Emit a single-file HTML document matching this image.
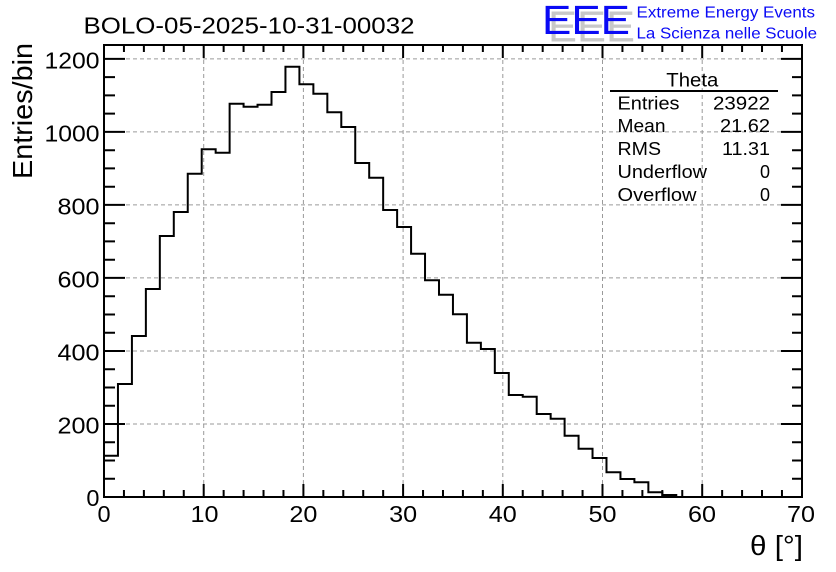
<!DOCTYPE html>
<html>
<head>
<meta charset="utf-8">
<style>
html,body{margin:0;padding:0;background:#fff;}
svg{display:block;}
text{font-family:"Liberation Sans",Arial,sans-serif;fill:#000;}
</style>
</head>
<body>
<svg width="836" height="572" viewBox="0 0 836 572" xmlns="http://www.w3.org/2000/svg">
<rect x="0" y="0" width="836" height="572" fill="#fff"/>

<!-- grid -->
<g stroke="#9a9a9a" stroke-width="1" stroke-dasharray="4 3" fill="none">
  <line x1="203.7" y1="46" x2="203.7" y2="496"/>
  <line x1="303.4" y1="46" x2="303.4" y2="496"/>
  <line x1="403.1" y1="46" x2="403.1" y2="496"/>
  <line x1="502.8" y1="46" x2="502.8" y2="496"/>
  <line x1="602.5" y1="46" x2="602.5" y2="496"/>
  <line x1="702.2" y1="46" x2="702.2" y2="496"/>
  <line x1="105" y1="424.0" x2="801" y2="424.0"/>
  <line x1="105" y1="351.0" x2="801" y2="351.0"/>
  <line x1="105" y1="277.9" x2="801" y2="277.9"/>
  <line x1="105" y1="204.9" x2="801" y2="204.9"/>
  <line x1="105" y1="131.9" x2="801" y2="131.9"/>
  <line x1="105" y1="58.9" x2="801" y2="58.9"/>
</g>

<!-- histogram -->
<path fill="none" stroke="#000" stroke-width="2" stroke-linejoin="miter"
d="M104 497 V455.7 H117.96 V384 H131.92 V336 H145.87 V289 H159.83 V236 H173.79 V212 H187.75 V173.7 H201.71 V149.3 H215.66 V152.7 H229.62 V103.7 H243.58 V106.7 H257.54 V104.7 H271.5 V92 H285.45 V66.7 H299.41 V84.3 H313.37 V93.7 H327.33 V112.3 H341.29 V127 H355.24 V163 H369.2 V177.7 H383.16 V210 H397.12 V227 H411.08 V253.7 H425.03 V280.3 H438.99 V294.8 H452.95 V314.3 H466.91 V342.7 H480.87 V349 H494.82 V373 H508.78 V395 H522.74 V396.7 H536.7 V414 H550.66 V418.7 H564.61 V435.7 H578.57 V448.7 H592.53 V458 H606.49 V472.3 H620.45 V479 H634.4 V482.3 H648.36 V492.3 H662.32 V495 H676.28 V497 H802"/>

<!-- frame -->
<rect x="104" y="45" width="698" height="452" fill="none" stroke="#000" stroke-width="2"/>

<!-- ticks -->
<g stroke="#000" stroke-width="2">
  <!-- x major bottom/top -->
  <path d="M203.7 497V484 M303.4 497V484 M403.1 497V484 M502.8 497V484 M602.5 497V484 M702.2 497V484
           M203.7 45V58 M303.4 45V58 M403.1 45V58 M502.8 45V58 M602.5 45V58 M702.2 45V58"/>
  <!-- x minor bottom -->
  <path d="M123.94 497V490 M143.88 497V490 M163.82 497V490 M183.76 497V490
           M223.64 497V490 M243.58 497V490 M263.52 497V490 M283.46 497V490
           M323.34 497V490 M343.28 497V490 M363.22 497V490 M383.16 497V490
           M423.04 497V490 M442.98 497V490 M462.92 497V490 M482.86 497V490
           M522.74 497V490 M542.68 497V490 M562.62 497V490 M582.56 497V490
           M622.44 497V490 M642.38 497V490 M662.32 497V490 M682.26 497V490
           M722.14 497V490 M742.08 497V490 M762.02 497V490 M781.96 497V490"/>
  <!-- x minor top -->
  <path d="M123.94 45V52 M143.88 45V52 M163.82 45V52 M183.76 45V52
           M223.64 45V52 M243.58 45V52 M263.52 45V52 M283.46 45V52
           M323.34 45V52 M343.28 45V52 M363.22 45V52 M383.16 45V52
           M423.04 45V52 M442.98 45V52 M462.92 45V52 M482.86 45V52
           M522.74 45V52 M542.68 45V52 M562.62 45V52 M582.56 45V52
           M622.44 45V52 M642.38 45V52 M662.32 45V52 M682.26 45V52
           M722.14 45V52 M742.08 45V52 M762.02 45V52 M781.96 45V52"/>
  <!-- y major left/right -->
  <path d="M104 424.0H125 M104 351.0H125 M104 277.9H125 M104 204.9H125 M104 131.9H125 M104 58.9H125
           M802 424.0H781 M802 351.0H781 M802 277.9H781 M802 204.9H781 M802 131.9H781 M802 58.9H781"/>
  <!-- y minor left -->
  <path d="M104 478.7H115 M104 460.5H115 M104 442.2H115
           M104 405.7H115 M104 387.5H115 M104 369.2H115
           M104 332.7H115 M104 314.5H115 M104 296.2H115
           M104 259.7H115 M104 241.4H115 M104 223.2H115
           M104 186.7H115 M104 168.4H115 M104 150.2H115
           M104 113.6H115 M104 95.4H115 M104 77.1H115"/>
  <!-- y minor right -->
  <path d="M802 478.7H792 M802 460.5H792 M802 442.2H792
           M802 405.7H792 M802 387.5H792 M802 369.2H792
           M802 332.7H792 M802 314.5H792 M802 296.2H792
           M802 259.7H792 M802 241.4H792 M802 223.2H792
           M802 186.7H792 M802 168.4H792 M802 150.2H792
           M802 113.6H792 M802 95.4H792 M802 77.1H792"/>
</g>

<!-- title -->
<text x="83.5" y="33.5" font-size="23.5" textLength="331" lengthAdjust="spacingAndGlyphs">BOLO-05-2025-10-31-00032</text>

<!-- y tick labels -->
<g font-size="23.5" text-anchor="end">
  <text x="99.5" y="506">0</text>
  <text x="99.5" y="433.5" textLength="42" lengthAdjust="spacingAndGlyphs">200</text>
  <text x="99.5" y="360.5" textLength="42" lengthAdjust="spacingAndGlyphs">400</text>
  <text x="99.5" y="287.4" textLength="42" lengthAdjust="spacingAndGlyphs">600</text>
  <text x="99.5" y="214.4" textLength="42" lengthAdjust="spacingAndGlyphs">800</text>
  <text x="99.5" y="141.6" textLength="55" lengthAdjust="spacingAndGlyphs">1000</text>
  <text x="99.5" y="68.6" textLength="55" lengthAdjust="spacingAndGlyphs">1200</text>
</g>

<!-- x tick labels -->
<g font-size="23.5" text-anchor="middle">
  <text x="104" y="522">0</text>
  <text x="204.5" y="522" textLength="28" lengthAdjust="spacingAndGlyphs">10</text>
  <text x="303.4" y="522" textLength="28" lengthAdjust="spacingAndGlyphs">20</text>
  <text x="403.1" y="522" textLength="28" lengthAdjust="spacingAndGlyphs">30</text>
  <text x="502.8" y="522" textLength="28" lengthAdjust="spacingAndGlyphs">40</text>
  <text x="602.5" y="522" textLength="28" lengthAdjust="spacingAndGlyphs">50</text>
  <text x="702" y="522" textLength="28" lengthAdjust="spacingAndGlyphs">60</text>
  <text x="801" y="522" textLength="28" lengthAdjust="spacingAndGlyphs">70</text>
</g>

<!-- axis titles -->
<text x="803" y="555" font-size="28" text-anchor="end" textLength="53" lengthAdjust="spacingAndGlyphs">θ [°]</text>
<text transform="translate(32,179) rotate(-90)" font-size="28" textLength="136" lengthAdjust="spacingAndGlyphs">Entries/bin</text>

<!-- stats box -->
<text x="692.3" y="86.7" font-size="19" text-anchor="middle" textLength="52" lengthAdjust="spacingAndGlyphs">Theta</text>
<line x1="610" y1="91" x2="778" y2="91" stroke="#000" stroke-width="2"/>
<g font-size="18">
  <text x="617.5" y="109.5" textLength="62" lengthAdjust="spacingAndGlyphs">Entries</text>
  <text x="617.5" y="132" textLength="48" lengthAdjust="spacingAndGlyphs">Mean</text>
  <text x="617.5" y="155" textLength="43.5" lengthAdjust="spacingAndGlyphs">RMS</text>
  <text x="617.5" y="178" textLength="89.5" lengthAdjust="spacingAndGlyphs">Underflow</text>
  <text x="617.5" y="201" textLength="79" lengthAdjust="spacingAndGlyphs">Overflow</text>
</g>
<g font-size="18" text-anchor="end">
  <text x="770" y="109.5" textLength="57" lengthAdjust="spacingAndGlyphs">23922</text>
  <text x="770" y="132" textLength="50" lengthAdjust="spacingAndGlyphs">21.62</text>
  <text x="770" y="155" textLength="48" lengthAdjust="spacingAndGlyphs">11.31</text>
  <text x="770" y="178">0</text>
  <text x="770" y="201">0</text>
</g>

<!-- EEE logo -->
<text x="548" y="41.7" font-size="44" style="fill:#c8c8c8" textLength="87" lengthAdjust="spacingAndGlyphs">EEE</text>
<text x="542" y="34" font-size="40.5" style="fill:#0a0af5" textLength="88" lengthAdjust="spacingAndGlyphs">EEE</text>
<text x="636.5" y="17.3" font-size="15.5" style="fill:#0a0af5" textLength="178.5" lengthAdjust="spacingAndGlyphs">Extreme Energy Events</text>
<text x="636.5" y="38.3" font-size="16" style="fill:#0a0af5" textLength="180.5" lengthAdjust="spacingAndGlyphs">La Scienza nelle Scuole</text>
</svg>
</body>
</html>
